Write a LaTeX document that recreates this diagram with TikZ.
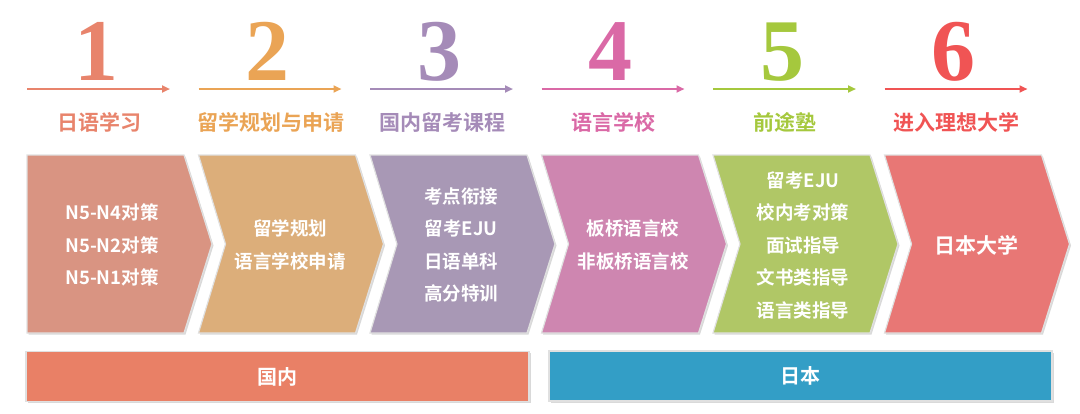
\documentclass[tikz,border=0pt]{standalone}
\usepackage{fontspec}
\setmainfont{Noto Sans CJK SC}[BoldFont={Noto Sans CJK SC Bold}]
\newfontfamily\digitfont{Liberation Serif}
\usetikzlibrary{arrows.meta,shadows}

\definecolor{stepA}{HTML}{E8846C}
\definecolor{stepB}{HTML}{EAA455}
\definecolor{stepC}{HTML}{A58BB8}
\definecolor{stepD}{HTML}{DA69A6}
\definecolor{stepE}{HTML}{A5C83D}
\definecolor{stepF}{HTML}{F05454}
\definecolor{chevA}{HTML}{D99482}
\definecolor{chevB}{HTML}{DCAE7A}
\definecolor{chevC}{HTML}{A898B5}
\definecolor{chevD}{HTML}{CE86B0}
\definecolor{chevE}{HTML}{B0C766}
\definecolor{chevF}{HTML}{E87775}
\definecolor{homebar}{HTML}{E98066}
\definecolor{japanbar}{HTML}{339EC6}

\begin{document}
\begin{tikzpicture}[
   x=1pt, y=-1pt,
   chev/.style={draw=white!88!black, line width=1.2pt,
      drop shadow={opacity=0.3, shadow xshift=1.5pt, shadow yshift=-1.5pt}},
   chevtext/.style={text=white, align=center,
      font=\fontsize{18.5}{32.5}\selectfont\bfseries},
   every node/.append style={align=center}  % <-- line breaks in nodes
]
\tikzset{
   digit/.style={anchor=base, font=\digitfont\bfseries\fontsize{88}{88}\selectfont},
   steplabel/.style={font=\fontsize{21}{24}\selectfont\bfseries},
   steparrow/.style={line width=2.4pt, -{Triangle[length=8pt,width=7pt]}},
   regionbar/.style={chev, minimum width=503pt, minimum height=50pt,
      text=white, font=\fontsize{20}{24}\selectfont\bfseries}
}
\useasboundingbox (0,0) rectangle (1080,413);

% numbers, arrows and step names
\foreach \i/\num/\col/\lab in {0/1/stepA/日语学习, 1/2/stepB/留学规划与申请,
      2/3/stepC/国内留考课程, 3/4/stepD/语言学校, 4/5/stepE/前途塾,
      5/6/stepF/进入理想大学}{
   \pgfmathsetmacro\xl{27+171.5*\i}
   \node[digit, text=\col] (num\num) at (\xl+69,80) {\num};
   \coordinate (from\num) at (\xl,89);
   \coordinate (to\num) at (\xl+143,89);
   \draw[steparrow, \col] (from\num) -- (to\num);
   \node[steplabel, text=\col] (name\num) at (\xl+72,122) {\lab};
}

% chevrons
\foreach \i/\col in {0/chevA, 1/chevB, 2/chevC, 3/chevD, 4/chevE, 5/chevF}{
   \pgfmathsetmacro\xl{27+171.5*\i}
   \pgfmathsetmacro\nd{\i==0 ? 0 : 27}
   \path[chev, fill=\col] (\xl,155) -- ++(157,0) -- ++(28,89) -- ++(-28,89)
      -- ++(-157,0) -- ++(\nd,-89) -- cycle;
}
\node[chevtext] (plan1) at (112,245) {N5-N4对策\\N5-N2对策\\N5-N1对策};
\node[chevtext] (plan2) at (290,245) {留学规划\\语言学校申请};
\node[chevtext] (plan3) at (461,245) {考点衔接\\留考EJU\\日语单科\\高分特训};
\node[chevtext] (plan4) at (633,245) {板桥语言校\\非板桥语言校};
\node[chevtext] (plan5) at (803,245) {留考EJU\\校内考对策\\面试指导\\文书类指导\\语言类指导};
\node[chevtext, font=\fontsize{21}{24}\selectfont\bfseries] (plan6) at (976,245) {日本大学};

% where
\node[regionbar, fill=homebar] (home) at (277.5,376.5) {国内};
\node[regionbar, fill=japanbar] (japan) at (800.5,376) {日本};
\end{tikzpicture}
\end{document}
